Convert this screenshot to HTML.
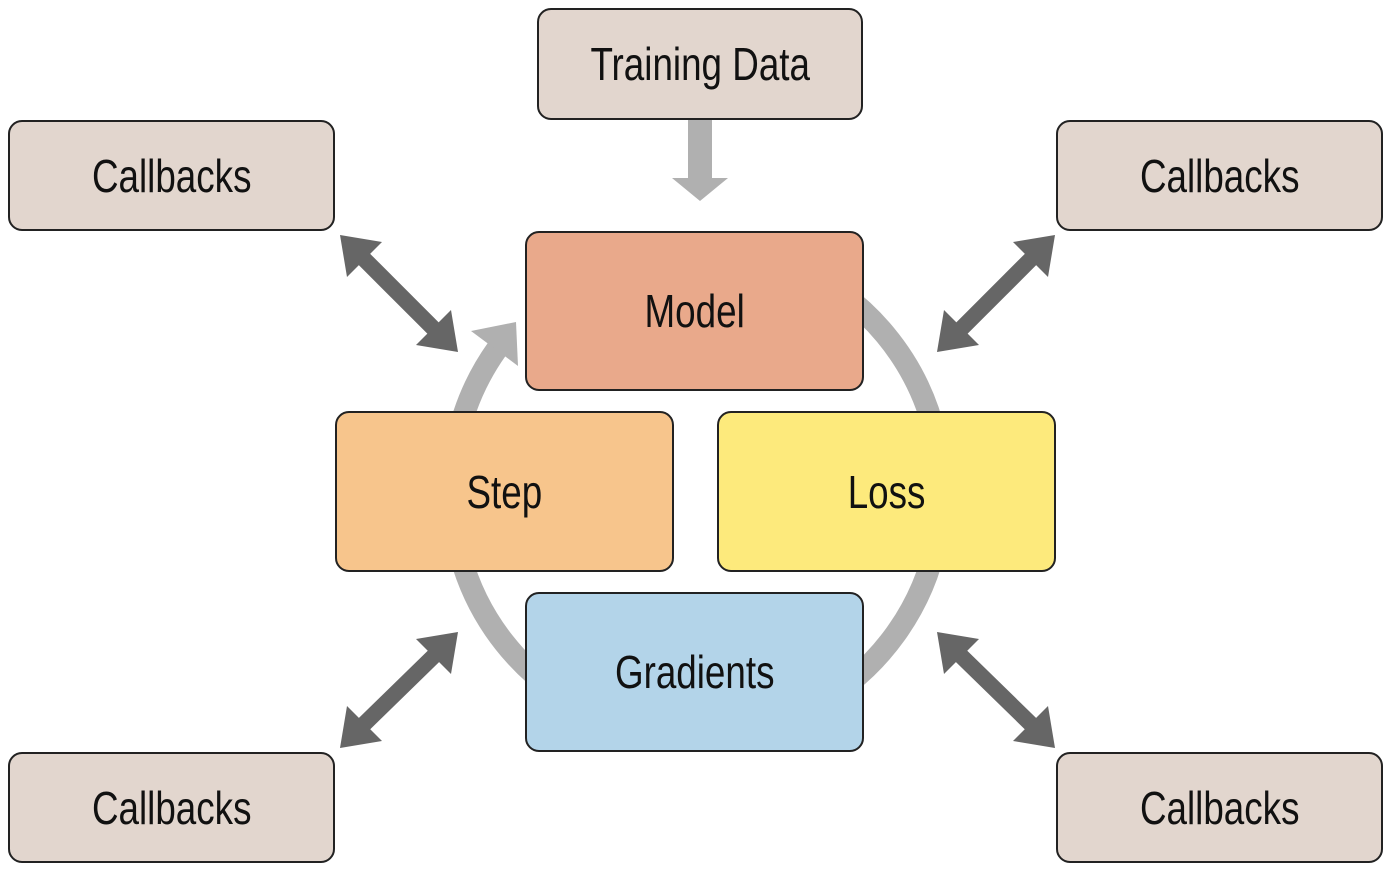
<!DOCTYPE html>
<html><head><style>
body{margin:0;background:#fff;width:1391px;height:872px;overflow:hidden;position:relative;font-family:"Liberation Sans",sans-serif}
.b{position:absolute;box-sizing:border-box;border:2px solid #222;border-radius:14px;display:flex;align-items:center;justify-content:center;font-size:46px;color:#111}
.b span{display:inline-block;transform:scaleX(0.8)}
.c{background:#e2d6ce}
</style></head><body>
<svg width="1391" height="872" style="position:absolute;left:0;top:0">
<path d="M497,349 A245,245 0 1 0 694,246" fill="none" stroke="#b0b0b0" stroke-width="22"/>
<polygon points="516,322 471,331 518,366" fill="#b0b0b0"/>
<rect x="688" y="120" width="24" height="58" fill="#b0b0b0"/>
<polygon points="672,178 728,178 700,201" fill="#b0b0b0"/>
<g stroke="#666" stroke-width="16">
<line x1="358" y1="253" x2="440" y2="335"/>
<line x1="1037" y1="253" x2="955" y2="335"/>
<line x1="358" y1="730" x2="440" y2="650"/>
<line x1="1037" y1="730" x2="955" y2="650"/>
</g>
<g fill="#666">
<polygon points="340,235 382,242 347,277"/>
<polygon points="458,352 416,345 451,310"/>
<polygon points="1055,235 1013,242 1048,277"/>
<polygon points="937,352 979,345 944,310"/>
<polygon points="340,748 382,741 347,706"/>
<polygon points="458,632 416,639 451,674"/>
<polygon points="1055,748 1013,741 1048,706"/>
<polygon points="937,632 979,639 944,674"/>
</g>
</svg>
<div class="b c" style="left:537px;top:8px;width:326px;height:112px"><span>Training Data</span></div>
<div class="b c" style="left:8px;top:120px;width:327px;height:111px"><span>Callbacks</span></div>
<div class="b c" style="left:1056px;top:120px;width:327px;height:111px"><span>Callbacks</span></div>
<div class="b c" style="left:8px;top:752px;width:327px;height:111px"><span>Callbacks</span></div>
<div class="b c" style="left:1056px;top:752px;width:327px;height:111px"><span>Callbacks</span></div>
<div class="b" style="left:525px;top:231px;width:339px;height:160px;background:#e9a98b"><span>Model</span></div>
<div class="b" style="left:335px;top:411px;width:339px;height:161px;background:#f7c58c"><span>Step</span></div>
<div class="b" style="left:717px;top:411px;width:339px;height:161px;background:#fdea7c"><span>Loss</span></div>
<div class="b" style="left:525px;top:592px;width:339px;height:160px;background:#b3d4e9"><span>Gradients</span></div>
</body></html>
